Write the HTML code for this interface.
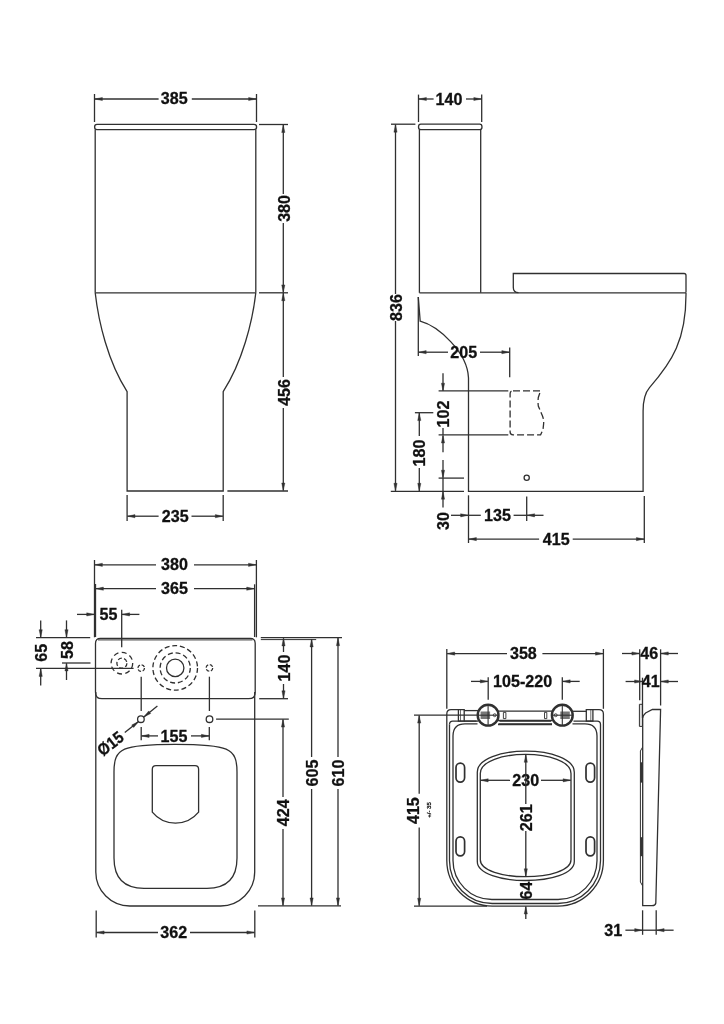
<!DOCTYPE html>
<html><head><meta charset="utf-8"><style>
html,body{margin:0;padding:0;background:#fff;width:724px;height:1024px;overflow:hidden}
svg{display:block;will-change:transform}
</style></head><body>
<svg width="724" height="1024" viewBox="0 0 724 1024">
<rect width="724" height="1024" fill="#fff"/>
<line x1="94.50" y1="94.00" x2="94.50" y2="122.00" stroke="#303030" stroke-width="1.3" />
<line x1="256.50" y1="94.00" x2="256.50" y2="122.00" stroke="#303030" stroke-width="1.3" />
<line x1="158.60" y1="99.00" x2="94.80" y2="99.00" stroke="#303030" stroke-width="1.3" />
<path d="M94.80,99.00 L102.40,97.40 L102.40,100.60 Z" fill="#303030" stroke="#303030" stroke-width="0.4"/>
<line x1="191.80" y1="99.00" x2="256.20" y2="99.00" stroke="#303030" stroke-width="1.3" />
<path d="M256.20,99.00 L248.60,100.60 L248.60,97.40 Z" fill="#303030" stroke="#303030" stroke-width="0.4"/>
<g transform="translate(174.30,98.30) rotate(0) scale(0.97,1)"><text x="0" y="5.98" text-anchor="middle" font-family="Liberation Sans" font-weight="bold" font-size="16.6" fill="#111" stroke="#111" stroke-width="0.3">385</text></g>
<path d="M97,124.4 H254 Q256.6,124.4 256.6,127 Q256.6,129.6 254,129.6 H97 Q94.6,129.6 94.6,127 Q94.6,124.4 97,124.4 Z" stroke="#303030" stroke-width="1.3" fill="none" />
<line x1="95.20" y1="129.60" x2="95.20" y2="292.80" stroke="#303030" stroke-width="1.3" />
<line x1="255.80" y1="129.60" x2="255.80" y2="292.80" stroke="#303030" stroke-width="1.3" />
<line x1="95.20" y1="292.80" x2="255.80" y2="292.80" stroke="#303030" stroke-width="1.3" />
<path d="M95.2,292.8 C98.5,322 108,362 127.1,391.6 V491 H223.2 V391.6 C242.3,362 252.5,322 255.8,292.8" stroke="#303030" stroke-width="1.3" fill="none" />
<line x1="259.00" y1="124.50" x2="288.00" y2="124.50" stroke="#303030" stroke-width="1.3" />
<line x1="259.00" y1="292.80" x2="288.00" y2="292.80" stroke="#303030" stroke-width="1.3" />
<line x1="227.40" y1="491.00" x2="288.00" y2="491.00" stroke="#303030" stroke-width="1.3" />
<line x1="283.30" y1="194.00" x2="283.30" y2="124.90" stroke="#303030" stroke-width="1.3" />
<path d="M283.30,124.90 L284.90,132.50 L281.70,132.50 Z" fill="#303030" stroke="#303030" stroke-width="0.4"/>
<line x1="283.30" y1="223.00" x2="283.30" y2="292.50" stroke="#303030" stroke-width="1.3" />
<path d="M283.30,292.50 L281.70,284.90 L284.90,284.90 Z" fill="#303030" stroke="#303030" stroke-width="0.4"/>
<g transform="translate(283.60,208.40) rotate(-90) scale(0.97,1)"><text x="0" y="5.98" text-anchor="middle" font-family="Liberation Sans" font-weight="bold" font-size="16.6" fill="#111" stroke="#111" stroke-width="0.3">380</text></g>
<line x1="283.30" y1="377.00" x2="283.30" y2="293.10" stroke="#303030" stroke-width="1.3" />
<path d="M283.30,293.10 L284.90,300.70 L281.70,300.70 Z" fill="#303030" stroke="#303030" stroke-width="0.4"/>
<line x1="283.30" y1="408.00" x2="283.30" y2="490.60" stroke="#303030" stroke-width="1.3" />
<path d="M283.30,490.60 L281.70,483.00 L284.90,483.00 Z" fill="#303030" stroke="#303030" stroke-width="0.4"/>
<g transform="translate(283.60,392.40) rotate(-90) scale(0.97,1)"><text x="0" y="5.98" text-anchor="middle" font-family="Liberation Sans" font-weight="bold" font-size="16.6" fill="#111" stroke="#111" stroke-width="0.3">456</text></g>
<line x1="127.10" y1="495.00" x2="127.10" y2="521.00" stroke="#303030" stroke-width="1.3" />
<line x1="223.20" y1="495.00" x2="223.20" y2="521.00" stroke="#303030" stroke-width="1.3" />
<line x1="158.60" y1="516.20" x2="127.40" y2="516.20" stroke="#303030" stroke-width="1.3" />
<path d="M127.40,516.20 L135.00,514.60 L135.00,517.80 Z" fill="#303030" stroke="#303030" stroke-width="0.4"/>
<line x1="191.50" y1="516.20" x2="222.90" y2="516.20" stroke="#303030" stroke-width="1.3" />
<path d="M222.90,516.20 L215.30,517.80 L215.30,514.60 Z" fill="#303030" stroke="#303030" stroke-width="0.4"/>
<g transform="translate(175.30,516.30) rotate(0) scale(0.97,1)"><text x="0" y="5.98" text-anchor="middle" font-family="Liberation Sans" font-weight="bold" font-size="16.6" fill="#111" stroke="#111" stroke-width="0.3">235</text></g>
<line x1="418.50" y1="94.60" x2="418.50" y2="122.00" stroke="#303030" stroke-width="1.3" />
<line x1="481.70" y1="94.60" x2="481.70" y2="122.00" stroke="#303030" stroke-width="1.3" />
<line x1="433.60" y1="99.00" x2="418.80" y2="99.00" stroke="#303030" stroke-width="1.3" />
<path d="M418.80,99.00 L426.40,97.40 L426.40,100.60 Z" fill="#303030" stroke="#303030" stroke-width="0.4"/>
<line x1="466.00" y1="99.00" x2="481.40" y2="99.00" stroke="#303030" stroke-width="1.3" />
<path d="M481.40,99.00 L473.80,100.60 L473.80,97.40 Z" fill="#303030" stroke="#303030" stroke-width="0.4"/>
<g transform="translate(449.00,98.80) rotate(0) scale(0.97,1)"><text x="0" y="5.98" text-anchor="middle" font-family="Liberation Sans" font-weight="bold" font-size="16.6" fill="#111" stroke="#111" stroke-width="0.3">140</text></g>
<path d="M420.8,124.2 H479.7 Q482,124.2 482,126.9 Q482,129.6 479.7,129.6 H420.8 Q418.5,129.6 418.5,126.9 Q418.5,124.2 420.8,124.2 Z" stroke="#303030" stroke-width="1.3" fill="none" />
<line x1="419.40" y1="129.60" x2="419.40" y2="292.80" stroke="#303030" stroke-width="1.3" />
<line x1="480.70" y1="129.60" x2="480.70" y2="292.80" stroke="#303030" stroke-width="1.3" />
<path d="M518.5,292.6 Q513.3,292.6 513.3,287.5 V273.5 H684 Q686,273.5 686,275.5 V292.6" stroke="#303030" stroke-width="1.3" fill="none" />
<line x1="419.40" y1="292.80" x2="686.00" y2="292.80" stroke="#303030" stroke-width="1.3" />
<path d="M686,292.8 C686.3,340 672,362 649.5,387.6 Q643.1,395 643.1,411 V491.3 H468.5 V378 C467.5,352 438,326 420.2,321.2 L418.3,297" stroke="#303030" stroke-width="1.3" fill="none" />
<line x1="391.00" y1="124.20" x2="415.40" y2="124.20" stroke="#303030" stroke-width="1.3" />
<line x1="390.80" y1="491.30" x2="464.00" y2="491.30" stroke="#303030" stroke-width="1.3" />
<line x1="395.50" y1="294.00" x2="395.50" y2="124.60" stroke="#303030" stroke-width="1.3" />
<path d="M395.50,124.60 L397.10,132.20 L393.90,132.20 Z" fill="#303030" stroke="#303030" stroke-width="0.4"/>
<line x1="395.50" y1="321.00" x2="395.50" y2="490.90" stroke="#303030" stroke-width="1.3" />
<path d="M395.50,490.90 L393.90,483.30 L397.10,483.30 Z" fill="#303030" stroke="#303030" stroke-width="0.4"/>
<g transform="translate(395.80,307.50) rotate(-90) scale(0.97,1)"><text x="0" y="5.98" text-anchor="middle" font-family="Liberation Sans" font-weight="bold" font-size="16.6" fill="#111" stroke="#111" stroke-width="0.3">836</text></g>
<line x1="418.30" y1="297.00" x2="418.30" y2="356.00" stroke="#303030" stroke-width="1.3" />
<line x1="509.70" y1="347.40" x2="509.70" y2="377.30" stroke="#303030" stroke-width="1.3" />
<line x1="448.00" y1="352.20" x2="418.60" y2="352.20" stroke="#303030" stroke-width="1.3" />
<path d="M418.60,352.20 L426.20,350.60 L426.20,353.80 Z" fill="#303030" stroke="#303030" stroke-width="0.4"/>
<line x1="480.00" y1="352.20" x2="509.40" y2="352.20" stroke="#303030" stroke-width="1.3" />
<path d="M509.40,352.20 L501.80,353.80 L501.80,350.60 Z" fill="#303030" stroke="#303030" stroke-width="0.4"/>
<g transform="translate(463.80,352.00) rotate(0) scale(0.97,1)"><text x="0" y="5.98" text-anchor="middle" font-family="Liberation Sans" font-weight="bold" font-size="16.6" fill="#111" stroke="#111" stroke-width="0.3">205</text></g>
<path d="M513,390.8 H540.6 L538.3,397.5 Q537.8,402 538.3,406 L542.5,416 Q544,420 543.6,424 L543,429.5 L540.6,434.8 H513 Q510.1,434.8 510.1,432 V393.7 Q510.1,390.8 513,390.8 Z" stroke="#303030" stroke-width="1.3" fill="none" stroke-dasharray="7,3"/>
<line x1="438.60" y1="390.90" x2="508.30" y2="390.90" stroke="#303030" stroke-width="1.3" />
<line x1="438.60" y1="434.90" x2="508.30" y2="434.90" stroke="#303030" stroke-width="1.3" />
<line x1="443.00" y1="373.30" x2="443.00" y2="390.80" stroke="#303030" stroke-width="1.3" />
<path d="M443.00,390.80 L441.40,383.20 L444.60,383.20 Z" fill="#303030" stroke="#303030" stroke-width="0.4"/>
<g transform="translate(443.30,414.00) rotate(-90) scale(0.97,1)"><text x="0" y="5.98" text-anchor="middle" font-family="Liberation Sans" font-weight="bold" font-size="16.6" fill="#111" stroke="#111" stroke-width="0.3">102</text></g>
<line x1="443.00" y1="428.00" x2="443.00" y2="435.10" stroke="#303030" stroke-width="1.3" />
<line x1="443.00" y1="452.30" x2="443.00" y2="435.40" stroke="#303030" stroke-width="1.3" />
<path d="M443.00,435.40 L444.60,443.00 L441.40,443.00 Z" fill="#303030" stroke="#303030" stroke-width="0.4"/>
<line x1="414.90" y1="412.70" x2="433.30" y2="412.70" stroke="#303030" stroke-width="1.3" />
<line x1="419.30" y1="436.00" x2="419.30" y2="413.00" stroke="#303030" stroke-width="1.3" />
<path d="M419.30,413.00 L420.90,420.60 L417.70,420.60 Z" fill="#303030" stroke="#303030" stroke-width="0.4"/>
<g transform="translate(418.80,453.00) rotate(-90) scale(0.97,1)"><text x="0" y="5.98" text-anchor="middle" font-family="Liberation Sans" font-weight="bold" font-size="16.6" fill="#111" stroke="#111" stroke-width="0.3">180</text></g>
<line x1="419.30" y1="468.00" x2="419.30" y2="490.90" stroke="#303030" stroke-width="1.3" />
<path d="M419.30,490.90 L417.70,483.30 L420.90,483.30 Z" fill="#303030" stroke="#303030" stroke-width="0.4"/>
<line x1="438.60" y1="478.10" x2="464.00" y2="478.10" stroke="#303030" stroke-width="1.3" />
<line x1="443.00" y1="460.00" x2="443.00" y2="477.80" stroke="#303030" stroke-width="1.3" />
<path d="M443.00,477.80 L441.40,470.20 L444.60,470.20 Z" fill="#303030" stroke="#303030" stroke-width="0.4"/>
<line x1="443.00" y1="478.10" x2="443.00" y2="491.30" stroke="#303030" stroke-width="1.3" />
<line x1="443.00" y1="507.60" x2="443.00" y2="491.60" stroke="#303030" stroke-width="1.3" />
<path d="M443.00,491.60 L444.60,499.20 L441.40,499.20 Z" fill="#303030" stroke="#303030" stroke-width="0.4"/>
<g transform="translate(443.30,521.00) rotate(-90) scale(0.97,1)"><text x="0" y="5.98" text-anchor="middle" font-family="Liberation Sans" font-weight="bold" font-size="16.6" fill="#111" stroke="#111" stroke-width="0.3">30</text></g>
<circle cx="526.70" cy="477.80" r="2.60" stroke="#303030" stroke-width="1.3" fill="none" />
<line x1="468.50" y1="495.30" x2="468.50" y2="543.00" stroke="#303030" stroke-width="1.3" />
<line x1="526.70" y1="496.50" x2="526.70" y2="521.00" stroke="#303030" stroke-width="1.3" />
<line x1="451.00" y1="515.30" x2="468.20" y2="515.30" stroke="#303030" stroke-width="1.3" />
<path d="M468.20,515.30 L460.60,516.90 L460.60,513.70 Z" fill="#303030" stroke="#303030" stroke-width="0.4"/>
<line x1="468.50" y1="515.30" x2="480.80" y2="515.30" stroke="#303030" stroke-width="1.3" />
<g transform="translate(497.50,515.20) rotate(0) scale(0.97,1)"><text x="0" y="5.98" text-anchor="middle" font-family="Liberation Sans" font-weight="bold" font-size="16.6" fill="#111" stroke="#111" stroke-width="0.3">135</text></g>
<line x1="513.60" y1="515.30" x2="526.70" y2="515.30" stroke="#303030" stroke-width="1.3" />
<line x1="543.50" y1="515.30" x2="527.00" y2="515.30" stroke="#303030" stroke-width="1.3" />
<path d="M527.00,515.30 L534.60,513.70 L534.60,516.90 Z" fill="#303030" stroke="#303030" stroke-width="0.4"/>
<line x1="644.30" y1="496.00" x2="644.30" y2="543.00" stroke="#303030" stroke-width="1.3" />
<line x1="539.10" y1="539.10" x2="468.80" y2="539.10" stroke="#303030" stroke-width="1.3" />
<path d="M468.80,539.10 L476.40,537.50 L476.40,540.70 Z" fill="#303030" stroke="#303030" stroke-width="0.4"/>
<line x1="572.70" y1="539.10" x2="644.00" y2="539.10" stroke="#303030" stroke-width="1.3" />
<path d="M644.00,539.10 L636.40,540.70 L636.40,537.50 Z" fill="#303030" stroke="#303030" stroke-width="0.4"/>
<g transform="translate(556.30,539.20) rotate(0) scale(0.97,1)"><text x="0" y="5.98" text-anchor="middle" font-family="Liberation Sans" font-weight="bold" font-size="16.6" fill="#111" stroke="#111" stroke-width="0.3">415</text></g>
<line x1="94.50" y1="560.00" x2="94.50" y2="637.30" stroke="#303030" stroke-width="1.3" />
<line x1="256.40" y1="560.00" x2="256.40" y2="637.30" stroke="#303030" stroke-width="1.3" />
<line x1="156.00" y1="564.80" x2="94.80" y2="564.80" stroke="#303030" stroke-width="1.3" />
<path d="M94.80,564.80 L102.40,563.20 L102.40,566.40 Z" fill="#303030" stroke="#303030" stroke-width="0.4"/>
<line x1="194.00" y1="564.80" x2="256.10" y2="564.80" stroke="#303030" stroke-width="1.3" />
<path d="M256.10,564.80 L248.50,566.40 L248.50,563.20 Z" fill="#303030" stroke="#303030" stroke-width="0.4"/>
<g transform="translate(174.50,564.50) rotate(0) scale(0.97,1)"><text x="0" y="5.98" text-anchor="middle" font-family="Liberation Sans" font-weight="bold" font-size="16.6" fill="#111" stroke="#111" stroke-width="0.3">380</text></g>
<line x1="95.50" y1="584.00" x2="95.50" y2="637.00" stroke="#303030" stroke-width="1.3" />
<line x1="254.60" y1="584.30" x2="254.60" y2="637.00" stroke="#303030" stroke-width="1.3" />
<line x1="156.00" y1="588.70" x2="95.80" y2="588.70" stroke="#303030" stroke-width="1.3" />
<path d="M95.80,588.70 L103.40,587.10 L103.40,590.30 Z" fill="#303030" stroke="#303030" stroke-width="0.4"/>
<line x1="194.00" y1="588.70" x2="254.30" y2="588.70" stroke="#303030" stroke-width="1.3" />
<path d="M254.30,588.70 L246.70,590.30 L246.70,587.10 Z" fill="#303030" stroke="#303030" stroke-width="0.4"/>
<g transform="translate(174.50,588.40) rotate(0) scale(0.97,1)"><text x="0" y="5.98" text-anchor="middle" font-family="Liberation Sans" font-weight="bold" font-size="16.6" fill="#111" stroke="#111" stroke-width="0.3">365</text></g>
<line x1="77.00" y1="614.40" x2="94.30" y2="614.40" stroke="#303030" stroke-width="1.3" />
<path d="M94.30,614.40 L86.70,616.00 L86.70,612.80 Z" fill="#303030" stroke="#303030" stroke-width="0.4"/>
<g transform="translate(108.50,614.20) rotate(0) scale(0.97,1)"><text x="0" y="5.98" text-anchor="middle" font-family="Liberation Sans" font-weight="bold" font-size="16.6" fill="#111" stroke="#111" stroke-width="0.3">55</text></g>
<line x1="121.70" y1="609.70" x2="121.70" y2="647.20" stroke="#303030" stroke-width="1.3" />
<line x1="139.40" y1="614.40" x2="122.00" y2="614.40" stroke="#303030" stroke-width="1.3" />
<path d="M122.00,614.40 L129.60,612.80 L129.60,616.00 Z" fill="#303030" stroke="#303030" stroke-width="0.4"/>
<line x1="98.00" y1="639.90" x2="252.50" y2="639.90" stroke="#303030" stroke-width="1.0" />
<path d="M100.5,638.3 H250.2 Q255.2,638.3 255.2,643.3 V692.2 Q255.2,698.7 248.7,698.7 H102 Q95.5,698.7 95.5,692.2 V643.3 Q95.5,638.3 100.5,638.3 Z" stroke="#303030" stroke-width="1.3" fill="none" />
<circle cx="121.90" cy="663.20" r="10.80" stroke="#303030" stroke-width="1.3" fill="none" stroke-dasharray="5,3.4"/>
<circle cx="121.90" cy="663.20" r="5.00" stroke="#303030" stroke-width="1.3" fill="none" stroke-dasharray="4,2.3"/>
<line x1="36.00" y1="668.30" x2="133.60" y2="668.30" stroke="#303030" stroke-width="1.3" />
<circle cx="141.20" cy="668.10" r="3.30" stroke="#303030" stroke-width="1.3" fill="none" stroke-dasharray="3.5,1.7"/>
<circle cx="209.40" cy="667.90" r="3.30" stroke="#303030" stroke-width="1.3" fill="none" stroke-dasharray="3.5,1.7"/>
<line x1="141.20" y1="676.70" x2="141.20" y2="711.00" stroke="#303030" stroke-width="1.3" />
<line x1="209.40" y1="676.70" x2="209.40" y2="711.00" stroke="#303030" stroke-width="1.3" />
<circle cx="175.20" cy="667.90" r="22.30" stroke="#303030" stroke-width="1.3" fill="none" stroke-dasharray="5,2.8"/>
<circle cx="175.20" cy="667.90" r="15.10" stroke="#303030" stroke-width="1.3" fill="none" stroke-dasharray="5,2.9"/>
<circle cx="175.20" cy="667.90" r="8.70" stroke="#303030" stroke-width="1.3" fill="none" />
<line x1="36.00" y1="637.60" x2="90.20" y2="637.60" stroke="#303030" stroke-width="1.3" />
<line x1="40.70" y1="620.40" x2="40.70" y2="637.30" stroke="#303030" stroke-width="1.3" />
<path d="M40.70,637.30 L39.10,629.70 L42.30,629.70 Z" fill="#303030" stroke="#303030" stroke-width="0.4"/>
<g transform="translate(41.00,652.80) rotate(-90) scale(0.97,1)"><text x="0" y="5.98" text-anchor="middle" font-family="Liberation Sans" font-weight="bold" font-size="16.6" fill="#111" stroke="#111" stroke-width="0.3">65</text></g>
<line x1="40.70" y1="685.60" x2="40.70" y2="668.80" stroke="#303030" stroke-width="1.3" />
<path d="M40.70,668.80 L42.30,676.40 L39.10,676.40 Z" fill="#303030" stroke="#303030" stroke-width="0.4"/>
<line x1="66.50" y1="620.40" x2="66.50" y2="637.30" stroke="#303030" stroke-width="1.3" />
<path d="M66.50,637.30 L64.90,629.70 L68.10,629.70 Z" fill="#303030" stroke="#303030" stroke-width="0.4"/>
<g transform="translate(66.80,650.00) rotate(-90) scale(0.97,1)"><text x="0" y="5.98" text-anchor="middle" font-family="Liberation Sans" font-weight="bold" font-size="16.6" fill="#111" stroke="#111" stroke-width="0.3">58</text></g>
<line x1="62.00" y1="663.00" x2="90.50" y2="663.00" stroke="#303030" stroke-width="1.3" />
<line x1="66.50" y1="680.00" x2="66.50" y2="663.30" stroke="#303030" stroke-width="1.3" />
<path d="M66.50,663.30 L68.10,670.90 L64.90,670.90 Z" fill="#303030" stroke="#303030" stroke-width="0.4"/>
<path d="M95.8,692 V872 A34,34 0 0 0 129.8,906 H220.7 A34,34 0 0 0 254.7,872 V692" stroke="#303030" stroke-width="1.3" fill="none" />
<circle cx="140.90" cy="719.20" r="3.30" stroke="#303030" stroke-width="1.3" fill="none" />
<circle cx="209.50" cy="719.20" r="3.30" stroke="#303030" stroke-width="1.3" fill="none" />
<line x1="141.20" y1="727.00" x2="141.20" y2="740.30" stroke="#303030" stroke-width="1.3" />
<line x1="209.30" y1="727.00" x2="209.30" y2="740.30" stroke="#303030" stroke-width="1.3" />
<line x1="216.10" y1="719.20" x2="288.80" y2="719.20" stroke="#303030" stroke-width="1.3" />
<line x1="158.00" y1="735.90" x2="141.50" y2="735.90" stroke="#303030" stroke-width="1.3" />
<path d="M141.50,735.90 L149.10,734.30 L149.10,737.50 Z" fill="#303030" stroke="#303030" stroke-width="0.4"/>
<line x1="191.00" y1="735.90" x2="209.00" y2="735.90" stroke="#303030" stroke-width="1.3" />
<path d="M209.00,735.90 L201.40,737.50 L201.40,734.30 Z" fill="#303030" stroke="#303030" stroke-width="0.4"/>
<g transform="translate(174.00,735.80) rotate(0) scale(0.97,1)"><text x="0" y="5.98" text-anchor="middle" font-family="Liberation Sans" font-weight="bold" font-size="16.6" fill="#111" stroke="#111" stroke-width="0.3">155</text></g>
<line x1="157.40" y1="706.00" x2="143.80" y2="717.00" stroke="#303030" stroke-width="1.3" />
<path d="M143.80,717.00 L148.70,710.98 L150.72,713.46 Z" fill="#303030" stroke="#303030" stroke-width="0.4"/>
<line x1="124.80" y1="732.60" x2="138.60" y2="721.50" stroke="#303030" stroke-width="1.3" />
<path d="M138.60,721.50 L133.68,727.51 L131.68,725.02 Z" fill="#303030" stroke="#303030" stroke-width="0.4"/>
<g transform="translate(110.20,743.40) rotate(-38) scale(0.9,1)"><text x="0" y="5.98" text-anchor="middle" font-family="Liberation Sans" font-weight="bold" font-size="16.6" fill="#111" stroke="#111" stroke-width="0.3">Ø15</text></g>
<path d="M114,772 C114,748 122,744.3 175.3,744.3 C228.5,744.3 237,748 237,772 V858 Q237,888.3 207,888.3 H144 Q114,888.3 114,858 Z" stroke="#303030" stroke-width="1.3" fill="none" />
<path d="M156,765.6 H195 Q198.6,765.6 198.6,769.2 V812.2 A29.9,29.9 0 0 1 152.3,812.2 V769.2 Q152.3,765.6 156,765.6 Z" stroke="#303030" stroke-width="1.3" fill="none" />
<line x1="260.80" y1="637.60" x2="342.00" y2="637.60" stroke="#303030" stroke-width="1.3" />
<line x1="260.80" y1="639.60" x2="316.20" y2="639.60" stroke="#303030" stroke-width="1.0" />
<line x1="259.20" y1="698.70" x2="288.00" y2="698.70" stroke="#303030" stroke-width="1.3" />
<line x1="283.50" y1="652.00" x2="283.50" y2="638.30" stroke="#303030" stroke-width="1.3" />
<path d="M283.50,638.30 L285.10,645.90 L281.90,645.90 Z" fill="#303030" stroke="#303030" stroke-width="0.4"/>
<g transform="translate(283.80,668.00) rotate(-90) scale(0.97,1)"><text x="0" y="5.98" text-anchor="middle" font-family="Liberation Sans" font-weight="bold" font-size="16.6" fill="#111" stroke="#111" stroke-width="0.3">140</text></g>
<line x1="283.50" y1="684.00" x2="283.50" y2="698.40" stroke="#303030" stroke-width="1.3" />
<path d="M283.50,698.40 L281.90,690.80 L285.10,690.80 Z" fill="#303030" stroke="#303030" stroke-width="0.4"/>
<line x1="283.00" y1="797.00" x2="283.00" y2="719.50" stroke="#303030" stroke-width="1.3" />
<path d="M283.00,719.50 L284.60,727.10 L281.40,727.10 Z" fill="#303030" stroke="#303030" stroke-width="0.4"/>
<g transform="translate(283.30,812.70) rotate(-90) scale(0.97,1)"><text x="0" y="5.98" text-anchor="middle" font-family="Liberation Sans" font-weight="bold" font-size="16.6" fill="#111" stroke="#111" stroke-width="0.3">424</text></g>
<line x1="283.00" y1="829.00" x2="283.00" y2="905.50" stroke="#303030" stroke-width="1.3" />
<path d="M283.00,905.50 L281.40,897.90 L284.60,897.90 Z" fill="#303030" stroke="#303030" stroke-width="0.4"/>
<line x1="311.60" y1="757.00" x2="311.60" y2="639.30" stroke="#303030" stroke-width="1.3" />
<path d="M311.60,639.30 L313.20,646.90 L310.00,646.90 Z" fill="#303030" stroke="#303030" stroke-width="0.4"/>
<g transform="translate(311.90,773.00) rotate(-90) scale(0.97,1)"><text x="0" y="5.98" text-anchor="middle" font-family="Liberation Sans" font-weight="bold" font-size="16.6" fill="#111" stroke="#111" stroke-width="0.3">605</text></g>
<line x1="311.60" y1="789.00" x2="311.60" y2="905.50" stroke="#303030" stroke-width="1.3" />
<path d="M311.60,905.50 L310.00,897.90 L313.20,897.90 Z" fill="#303030" stroke="#303030" stroke-width="0.4"/>
<line x1="338.00" y1="757.00" x2="338.00" y2="638.10" stroke="#303030" stroke-width="1.3" />
<path d="M338.00,638.10 L339.60,645.70 L336.40,645.70 Z" fill="#303030" stroke="#303030" stroke-width="0.4"/>
<g transform="translate(338.30,773.00) rotate(-90) scale(0.97,1)"><text x="0" y="5.98" text-anchor="middle" font-family="Liberation Sans" font-weight="bold" font-size="16.6" fill="#111" stroke="#111" stroke-width="0.3">610</text></g>
<line x1="338.00" y1="789.00" x2="338.00" y2="905.50" stroke="#303030" stroke-width="1.3" />
<path d="M338.00,905.50 L336.40,897.90 L339.60,897.90 Z" fill="#303030" stroke="#303030" stroke-width="0.4"/>
<line x1="258.00" y1="905.80" x2="341.00" y2="905.80" stroke="#303030" stroke-width="1.3" />
<line x1="96.20" y1="910.40" x2="96.20" y2="937.50" stroke="#303030" stroke-width="1.3" />
<line x1="254.80" y1="910.40" x2="254.80" y2="937.50" stroke="#303030" stroke-width="1.3" />
<line x1="158.00" y1="932.50" x2="96.50" y2="932.50" stroke="#303030" stroke-width="1.3" />
<path d="M96.50,932.50 L104.10,930.90 L104.10,934.10 Z" fill="#303030" stroke="#303030" stroke-width="0.4"/>
<line x1="190.00" y1="932.50" x2="254.50" y2="932.50" stroke="#303030" stroke-width="1.3" />
<path d="M254.50,932.50 L246.90,934.10 L246.90,930.90 Z" fill="#303030" stroke="#303030" stroke-width="0.4"/>
<g transform="translate(173.80,932.30) rotate(0) scale(0.97,1)"><text x="0" y="5.98" text-anchor="middle" font-family="Liberation Sans" font-weight="bold" font-size="16.6" fill="#111" stroke="#111" stroke-width="0.3">362</text></g>
<line x1="446.80" y1="649.00" x2="446.80" y2="708.80" stroke="#303030" stroke-width="1.3" />
<line x1="603.40" y1="649.00" x2="603.40" y2="708.80" stroke="#303030" stroke-width="1.3" />
<line x1="507.00" y1="653.60" x2="447.10" y2="653.60" stroke="#303030" stroke-width="1.3" />
<path d="M447.10,653.60 L454.70,652.00 L454.70,655.20 Z" fill="#303030" stroke="#303030" stroke-width="0.4"/>
<line x1="542.40" y1="653.60" x2="603.10" y2="653.60" stroke="#303030" stroke-width="1.3" />
<path d="M603.10,653.60 L595.50,655.20 L595.50,652.00 Z" fill="#303030" stroke="#303030" stroke-width="0.4"/>
<g transform="translate(523.40,653.30) rotate(0) scale(0.97,1)"><text x="0" y="5.98" text-anchor="middle" font-family="Liberation Sans" font-weight="bold" font-size="16.6" fill="#111" stroke="#111" stroke-width="0.3">358</text></g>
<line x1="488.20" y1="677.30" x2="488.20" y2="699.70" stroke="#303030" stroke-width="1.3" />
<line x1="562.30" y1="677.30" x2="562.30" y2="699.70" stroke="#303030" stroke-width="1.3" />
<line x1="471.00" y1="681.40" x2="487.90" y2="681.40" stroke="#303030" stroke-width="1.3" />
<path d="M487.90,681.40 L480.30,683.00 L480.30,679.80 Z" fill="#303030" stroke="#303030" stroke-width="0.4"/>
<line x1="579.70" y1="681.40" x2="562.60" y2="681.40" stroke="#303030" stroke-width="1.3" />
<path d="M562.60,681.40 L570.20,679.80 L570.20,683.00 Z" fill="#303030" stroke="#303030" stroke-width="0.4"/>
<g transform="translate(522.60,681.40) rotate(0) scale(0.97,1)"><text x="0" y="5.98" text-anchor="middle" font-family="Liberation Sans" font-weight="bold" font-size="16.6" fill="#111" stroke="#111" stroke-width="0.3">105-220</text></g>
<line x1="414.00" y1="715.20" x2="477.00" y2="715.20" stroke="#303030" stroke-width="1.3" />
<line x1="414.00" y1="906.10" x2="487.00" y2="906.10" stroke="#303030" stroke-width="1.3" />
<line x1="419.20" y1="793.70" x2="419.20" y2="715.50" stroke="#303030" stroke-width="1.3" />
<path d="M419.20,715.50 L420.80,723.10 L417.60,723.10 Z" fill="#303030" stroke="#303030" stroke-width="0.4"/>
<line x1="419.20" y1="827.60" x2="419.20" y2="905.80" stroke="#303030" stroke-width="1.3" />
<path d="M419.20,905.80 L417.60,898.20 L420.80,898.20 Z" fill="#303030" stroke="#303030" stroke-width="0.4"/>
<g transform="translate(413.20,810.60) rotate(-90) scale(0.97,1)"><text x="0" y="5.98" text-anchor="middle" font-family="Liberation Sans" font-weight="bold" font-size="16.6" fill="#111" stroke="#111" stroke-width="0.3">415</text></g>
<g transform="translate(429.20,810.00) rotate(-90) scale(0.97,1)"><text x="0" y="2.23" text-anchor="middle" font-family="Liberation Sans" font-weight="normal" font-size="6.2" fill="#111" stroke="#111" stroke-width="0.3">+/- 35</text></g>
<path d="M446.8,714 Q446.8,709.6 451,709.6 H458.4" stroke="#303030" stroke-width="1.3" fill="none" />
<path d="M446.8,714 V860.6 A45.5,45.5 0 0 0 492.3,906.1 H557.9 A45.5,45.5 0 0 0 603.4,860.6 V714 Q603.4,709.6 599,709.6 H592.9" stroke="#303030" stroke-width="1.3" fill="none" />
<path d="M449.5,724.5 Q449.5,721.2 452.8,721.2 H476.5" stroke="#303030" stroke-width="1.3" fill="none" />
<path d="M499.5,721.2 H551 M573.5,721.2 H597.2 Q600.5,721.2 600.5,724.5 V860.8 A42.7,42.7 0 0 1 557.8,903.5 H492.2 A42.7,42.7 0 0 1 449.5,860.8 V724.5" stroke="#303030" stroke-width="1.3" fill="none" />
<path d="M453,860.6 V736 Q453,723.8 465,723.8 H477.5 M498.5,723.8 H552 M572.5,723.8 H585 Q597,723.8 597,736 V860.6 A38.9,38.9 0 0 1 558.1,899.5 H491.9 A38.9,38.9 0 0 1 453,860.6" stroke="#303030" stroke-width="1.3" fill="none" />
<path d="M458.4,709.7 H464.2 V721.1 H458.4 Z" stroke="#303030" stroke-width="1.3" fill="none" />
<line x1="460.50" y1="709.70" x2="460.50" y2="721.10" stroke="#303030" stroke-width="0.7" />
<path d="M586.3,709.7 H592.9 V721.1 H586.3 Z" stroke="#303030" stroke-width="1.3" fill="none" />
<line x1="590.80" y1="709.70" x2="590.80" y2="721.10" stroke="#303030" stroke-width="0.7" />
<line x1="464.20" y1="710.60" x2="478.00" y2="710.60" stroke="#303030" stroke-width="1.3" />
<line x1="498.00" y1="711.20" x2="552.00" y2="711.20" stroke="#303030" stroke-width="1.3" />
<line x1="572.50" y1="711.30" x2="586.30" y2="711.30" stroke="#303030" stroke-width="1.3" />
<line x1="464.20" y1="721.10" x2="478.00" y2="721.10" stroke="#303030" stroke-width="1.3" />
<path d="M503.4,712.4 H505.9 V718.6 H503.4 Z" stroke="#303030" stroke-width="0.9" fill="none" />
<path d="M544.5,712.4 H546.8 V718.6 H544.5 Z" stroke="#303030" stroke-width="0.9" fill="none" />
<line x1="498.00" y1="720.50" x2="552.00" y2="720.50" stroke="#303030" stroke-width="1.3" />
<line x1="498.00" y1="724.50" x2="552.00" y2="724.50" stroke="#303030" stroke-width="1.5" />
<rect x="480.60" y="711.5" width="9.5" height="7.5" fill="#777"/>
<circle cx="488.10" cy="715.20" r="10.40" stroke="#303030" stroke-width="2.4" fill="none" />
<line x1="488.10" y1="704.80" x2="488.10" y2="725.60" stroke="#303030" stroke-width="1.1" />
<line x1="477.70" y1="715.20" x2="498.50" y2="715.20" stroke="#303030" stroke-width="1.1" />
<circle cx="494.70" cy="715.20" r="1.50" stroke="#303030" stroke-width="0.8" fill="none" />
<rect x="560.30" y="711.5" width="9.5" height="7.5" fill="#777"/>
<circle cx="562.30" cy="715.20" r="10.40" stroke="#303030" stroke-width="2.4" fill="none" />
<line x1="562.30" y1="704.80" x2="562.30" y2="725.60" stroke="#303030" stroke-width="1.1" />
<line x1="551.90" y1="715.20" x2="572.70" y2="715.20" stroke="#303030" stroke-width="1.1" />
<circle cx="555.70" cy="715.20" r="1.50" stroke="#303030" stroke-width="0.8" fill="none" />
<path d="M456.0,767.4 A4.3,4.3 0 0 1 464.6,767.4 V777.8000000000001 A4.3,4.3 0 0 1 456.0,777.8000000000001 Z" stroke="#303030" stroke-width="1.7" fill="none" />
<path d="M456.0,841.1999999999999 A4.3,4.3 0 0 1 464.6,841.1999999999999 V851.6 A4.3,4.3 0 0 1 456.0,851.6 Z" stroke="#303030" stroke-width="1.7" fill="none" />
<path d="M586.0,767.4 A4.3,4.3 0 0 1 594.5999999999999,767.4 V777.8000000000001 A4.3,4.3 0 0 1 586.0,777.8000000000001 Z" stroke="#303030" stroke-width="1.7" fill="none" />
<path d="M586.0,841.1999999999999 A4.3,4.3 0 0 1 594.5999999999999,841.1999999999999 V851.6 A4.3,4.3 0 0 1 586.0,851.6 Z" stroke="#303030" stroke-width="1.7" fill="none" />
<path d="M477.3,772.2 C477.3,758.5500000000001 501.54999999999995,751.2 525.8,751.2 C550.05,751.2 574.3,758.5500000000001 574.3,772.2 V861.5 C574.3,873.85 550.05,880.5 525.8,880.5 C501.54999999999995,880.5 477.3,873.85 477.3,861.5 Z" stroke="#303030" stroke-width="1.3" fill="none" />
<path d="M480.3,773.4 C480.3,761.05 502.97499999999997,754.4 525.65,754.4 C548.3249999999999,754.4 571,761.05 571,773.4 V859.7 C571,870.75 548.3249999999999,876.7 525.65,876.7 C502.97499999999997,876.7 480.3,870.75 480.3,859.7 Z" stroke="#303030" stroke-width="1.3" fill="none" />
<line x1="510.00" y1="780.30" x2="480.60" y2="780.30" stroke="#303030" stroke-width="1.3" />
<path d="M480.60,780.30 L488.20,778.70 L488.20,781.90 Z" fill="#303030" stroke="#303030" stroke-width="0.4"/>
<line x1="541.00" y1="780.30" x2="570.70" y2="780.30" stroke="#303030" stroke-width="1.3" />
<path d="M570.70,780.30 L563.10,781.90 L563.10,778.70 Z" fill="#303030" stroke="#303030" stroke-width="0.4"/>
<g transform="translate(525.70,780.20) rotate(0) scale(0.97,1)"><text x="0" y="5.98" text-anchor="middle" font-family="Liberation Sans" font-weight="bold" font-size="16.6" fill="#111" stroke="#111" stroke-width="0.3">230</text></g>
<line x1="525.80" y1="804.00" x2="525.80" y2="754.70" stroke="#303030" stroke-width="1.3" />
<path d="M525.80,754.70 L527.40,762.30 L524.20,762.30 Z" fill="#303030" stroke="#303030" stroke-width="0.4"/>
<line x1="525.80" y1="831.00" x2="525.80" y2="876.40" stroke="#303030" stroke-width="1.3" />
<path d="M525.80,876.40 L524.20,868.80 L527.40,868.80 Z" fill="#303030" stroke="#303030" stroke-width="0.4"/>
<g transform="translate(526.10,817.70) rotate(-90) scale(0.97,1)"><text x="0" y="5.98" text-anchor="middle" font-family="Liberation Sans" font-weight="bold" font-size="16.6" fill="#111" stroke="#111" stroke-width="0.3">261</text></g>
<g transform="translate(526.10,890.50) rotate(-90) scale(0.97,1)"><text x="0" y="5.98" text-anchor="middle" font-family="Liberation Sans" font-weight="bold" font-size="16.6" fill="#111" stroke="#111" stroke-width="0.3">64</text></g>
<line x1="525.80" y1="919.00" x2="525.80" y2="906.40" stroke="#303030" stroke-width="1.3" />
<path d="M525.80,906.40 L527.40,914.00 L524.20,914.00 Z" fill="#303030" stroke="#303030" stroke-width="0.4"/>
<path d="M642.7,718 Q643.3,715 645.6,713 L652.4,709.5 H660.6 L655.8,903.2 Q655.5,905.7 652,905.7 H642.7 Z" stroke="#303030" stroke-width="1.3" fill="none" />
<path d="M639.4,704.3 H642.5 V726.4 H639.4 Z" stroke="#303030" stroke-width="1.0" fill="#ddd" />
<path d="M642.7,747 L640.4,751 V882 L642.7,886" stroke="#303030" stroke-width="1.0" fill="none" />
<rect x="640.3" y="762.3" width="2.3" height="20.3" fill="#333"/>
<rect x="640.3" y="837.2" width="2.3" height="19" fill="#333"/>
<line x1="639.70" y1="649.30" x2="639.70" y2="700.20" stroke="#303030" stroke-width="1.3" />
<line x1="660.60" y1="649.30" x2="660.60" y2="705.50" stroke="#303030" stroke-width="1.3" />
<line x1="642.50" y1="677.70" x2="642.50" y2="718.00" stroke="#303030" stroke-width="1.3" />
<line x1="622.00" y1="653.50" x2="639.50" y2="653.50" stroke="#303030" stroke-width="1.3" />
<path d="M639.50,653.50 L631.90,655.10 L631.90,651.90 Z" fill="#303030" stroke="#303030" stroke-width="0.4"/>
<line x1="678.00" y1="653.50" x2="660.70" y2="653.50" stroke="#303030" stroke-width="1.3" />
<path d="M660.70,653.50 L668.30,651.90 L668.30,655.10 Z" fill="#303030" stroke="#303030" stroke-width="0.4"/>
<g transform="translate(649.30,653.20) rotate(0) scale(0.97,1)"><text x="0" y="5.98" text-anchor="middle" font-family="Liberation Sans" font-weight="bold" font-size="16.6" fill="#111" stroke="#111" stroke-width="0.3">46</text></g>
<line x1="625.60" y1="681.50" x2="642.20" y2="681.50" stroke="#303030" stroke-width="1.3" />
<path d="M642.20,681.50 L634.60,683.10 L634.60,679.90 Z" fill="#303030" stroke="#303030" stroke-width="0.4"/>
<line x1="678.00" y1="681.50" x2="660.70" y2="681.50" stroke="#303030" stroke-width="1.3" />
<path d="M660.70,681.50 L668.30,679.90 L668.30,683.10 Z" fill="#303030" stroke="#303030" stroke-width="0.4"/>
<g transform="translate(650.70,681.50) rotate(0) scale(0.97,1)"><text x="0" y="5.98" text-anchor="middle" font-family="Liberation Sans" font-weight="bold" font-size="16.6" fill="#111" stroke="#111" stroke-width="0.3">41</text></g>
<line x1="642.60" y1="910.30" x2="642.60" y2="934.80" stroke="#303030" stroke-width="1.3" />
<line x1="656.20" y1="910.30" x2="656.20" y2="934.80" stroke="#303030" stroke-width="1.3" />
<line x1="625.40" y1="930.20" x2="642.30" y2="930.20" stroke="#303030" stroke-width="1.3" />
<path d="M642.30,930.20 L634.70,931.80 L634.70,928.60 Z" fill="#303030" stroke="#303030" stroke-width="0.4"/>
<line x1="673.60" y1="930.20" x2="656.50" y2="930.20" stroke="#303030" stroke-width="1.3" />
<path d="M656.50,930.20 L664.10,928.60 L664.10,931.80 Z" fill="#303030" stroke="#303030" stroke-width="0.4"/>
<line x1="642.60" y1="930.20" x2="656.20" y2="930.20" stroke="#303030" stroke-width="1.3" />
<g transform="translate(613.30,930.50) rotate(0) scale(0.97,1)"><text x="0" y="5.98" text-anchor="middle" font-family="Liberation Sans" font-weight="bold" font-size="16.6" fill="#111" stroke="#111" stroke-width="0.3">31</text></g>
</svg></body></html>
